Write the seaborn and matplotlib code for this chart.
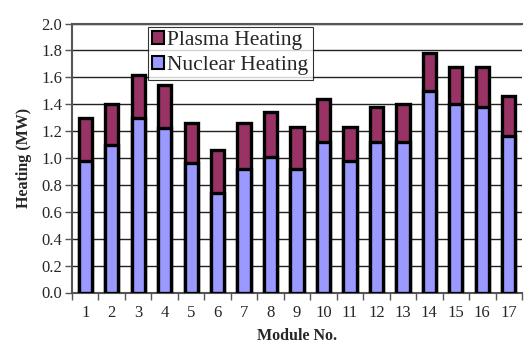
import matplotlib
matplotlib.use("Agg")
import matplotlib.pyplot as plt
from matplotlib.patches import Patch
import seaborn as sns
import pandas as pd

modules = [str(i) for i in range(1, 18)]
nuclear = [0.98, 1.10, 1.30, 1.22, 0.96, 0.74, 0.92, 1.01, 0.92, 1.12,
           0.98, 1.12, 1.12, 1.50, 1.40, 1.38, 1.16]
total = [1.30, 1.40, 1.62, 1.54, 1.26, 1.06, 1.26, 1.34, 1.23, 1.44,
         1.23, 1.38, 1.40, 1.78, 1.68, 1.68, 1.46]
y_ticks = [0.0, 0.2, 0.4, 0.6, 0.8, 1.0, 1.2, 1.4, 1.6, 1.8, 2.0]

plasma_color = "#993366"
nuclear_color = "#9999FF"

df = pd.DataFrame({"module": modules, "nuclear": nuclear, "total": total})

sns.set_style("white")
plt.rcParams["font.family"] = ["Liberation Serif", "DejaVu Serif"]

fig = plt.figure(figsize=(5.24, 3.51), dpi=100)
ax = fig.add_axes([72 / 524, 1 - 292.5 / 351, 450 / 524, 269 / 351])

# Full stack (plasma on top of nuclear), then nuclear part over it
sns.barplot(data=df, x="module", y="total", color=plasma_color, width=0.5,
            edgecolor="black", linewidth=2.4, saturation=1, ax=ax, zorder=3)
sns.barplot(data=df, x="module", y="nuclear", color=nuclear_color, width=0.5,
            edgecolor="black", linewidth=2.4, saturation=1, ax=ax, zorder=4)

ax.set_ylim(0, 2.0)
ax.set_xlim(-0.5, len(modules) - 0.5)
ax.set_yticks(y_ticks)
ax.set_yticklabels([f"{v:.1f}" for v in y_ticks], fontsize=12)
ax.yaxis.grid(True, color="#222222", linewidth=1.0, zorder=0)
ax.set_axisbelow(True)

# Category labels centred, tick marks between categories
ax.set_xticks(range(len(modules)))
ax.set_xticklabels(modules, fontsize=12)
ax.tick_params(axis="x", length=0, pad=9)
ax.set_xticks([i - 0.5 for i in range(len(modules) + 1)], minor=True)
ax.tick_params(axis="x", which="minor", length=5, width=1, color="#555555",
               direction="out")
ax.tick_params(axis="y", length=5, width=1, color="#555555", direction="out",
               pad=2)
ax.tick_params(left=True, bottom=True, which="both")

for side in ["left", "bottom", "top"]:
    ax.spines[side].set_color("#555555")
    ax.spines[side].set_linewidth(1.5)
ax.spines["right"].set_visible(False)

ax.set_xlabel("Module No.", fontsize=11.5, fontweight="bold", labelpad=5)
ax.set_ylabel("Heating (MW)", fontsize=11.5, fontweight="bold", labelpad=7)

handles = [Patch(facecolor=plasma_color, edgecolor="black", linewidth=1.5,
                 label="Plasma Heating"),
           Patch(facecolor=nuclear_color, edgecolor="black", linewidth=1.5,
                 label="Nuclear Heating")]
leg = ax.legend(handles=handles, loc="upper left",
                bbox_to_anchor=(76 / 450, 1.0 - 3 / 269), fontsize=15.5,
                frameon=True, fancybox=False, handlelength=0.55,
                handleheight=0.55, handletextpad=0.15, borderpad=0.2,
                labelspacing=0.3, borderaxespad=0)
leg.get_frame().set_edgecolor("black")
leg.get_frame().set_linewidth(0.8)
leg.set_zorder(10)

fig.savefig("out.png", dpi=100)
